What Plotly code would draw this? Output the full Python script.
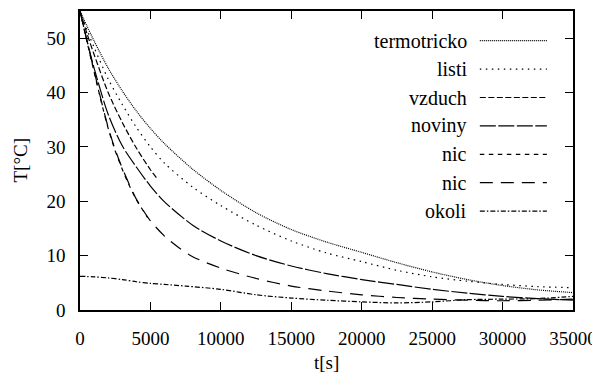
import plotly.graph_objects as go

# ---------------- data ----------------
t_termotricko = [0, 500, 1000, 2000, 3000, 4000, 5000, 6000, 8000, 10000, 12500, 15000,
                 17500, 20000, 22500, 25000, 27500, 30000, 32500, 35000]
T_termotricko = [55, 52.2, 49.5, 44.5, 40.3, 36.6, 33.4, 30.6, 25.9, 22.0, 17.9, 14.8,
                 12.5, 10.6, 8.7, 7.0, 5.6, 4.5, 3.7, 3.2]

t_listi = [0, 500, 1000, 2000, 3000, 4000, 5000, 6000, 8000, 10000, 12500, 15000,
           17500, 20000, 22500, 25000, 27500, 30000, 32500, 35000]
T_listi = [55, 51.5, 48.3, 42.5, 37.8, 33.6, 30.0, 27.0, 22.6, 19.2, 15.6, 12.7,
           10.5, 8.9, 7.3, 6.1, 5.3, 4.7, 4.3, 4.1]

t_vzduch = [0, 500, 1000, 2000, 3000, 4000, 5000, 5500]
T_vzduch = [55, 50.8, 47.0, 40.0, 34.5, 29.8, 25.8, 24.1]

t_noviny = [0, 500, 1000, 2000, 3000, 4000, 5000, 6000, 8000, 10000, 12500, 15000,
            17500, 20000, 22500, 25000, 27500, 30000, 32500, 35000]
T_noviny = [55, 49.5, 44.5, 36.0, 30.2, 26.3, 22.8, 19.9, 15.6, 12.7, 10.0, 8.1,
            6.7, 5.6, 4.7, 3.8, 3.1, 2.5, 2.1, 1.8]

t_nic1 = [0, 500, 1000, 1500, 2000, 2500, 3000, 3500, 4000, 4800]
T_nic1 = [55, 49.3, 43.8, 38.4, 33.4, 29.3, 25.9, 22.9, 20.3, 17.0]

t_nic2 = [0, 500, 1000, 1500, 2000, 2500, 3000, 3500, 4000, 5000, 6000, 7000, 8000,
          10000, 12500, 15000, 17500, 20000, 22500, 25000, 27500, 30000, 32500, 35000]
T_nic2 = [55, 49.5, 44.0, 38.6, 33.6, 29.5, 26.1, 23.1, 20.4, 16.4, 13.6, 11.5, 9.8,
          7.7, 5.8, 4.4, 3.5, 2.8, 2.3, 2.0, 1.8, 1.7, 1.8, 2.0]

t_okoli = [0, 1000, 2000, 3000, 4000, 5000, 6000, 7500, 10000, 12500, 15000, 17500,
           20000, 22500, 25000, 27500, 30000, 32500, 35000]
T_okoli = [6.2, 6.1, 5.9, 5.6, 5.2, 4.9, 4.7, 4.4, 3.8, 2.8, 2.2, 1.8,
           1.5, 1.3, 1.5, 1.9, 2.0, 2.1, 2.5]

series_names = ["termotricko", "listi", "vzduch", "noviny", "nic", "nic", "okoli"]
x_ticks = [0, 5000, 10000, 15000, 20000, 25000, 30000, 35000]
y_ticks = [0, 10, 20, 30, 40, 50]

# ---------------- styles ----------------
dashes = ["1px,1px", "1.5px,4.5px", "6px,2.5px", "16px,2.5px", "4.5px,4.5px",
          "13px,8px", "5px,2px,1.5px,2px"]
FONT = "Liberation Serif, DejaVu Serif, serif"
FS = 19
FS_KEY = 20

series = [(t_termotricko, T_termotricko), (t_listi, T_listi), (t_vzduch, T_vzduch),
          (t_noviny, T_noviny), (t_nic1, T_nic1), (t_nic2, T_nic2), (t_okoli, T_okoli)]

fig = go.Figure()
for (tx, ty), name, dsh in zip(series, series_names, dashes):
    fig.add_trace(go.Scatter(x=tx, y=ty, mode="lines", name=name,
                             line=dict(color="black", width=1.2, dash=dsh, shape="spline",
                                       smoothing=0.8),
                             showlegend=False))

# key: right-aligned text with line sample to its right
key_top = 0.9007
key_step = 0.0950
for i, (name, dsh) in enumerate(zip(series_names, dashes)):
    yy = key_top - i * key_step
    fig.add_annotation(xref="paper", yref="paper", x=0.79, y=yy, text=name,
                       showarrow=False, xanchor="right", yanchor="middle",
                       font=dict(family=FONT, size=FS_KEY, color="black"))
    fig.add_shape(type="line", xref="paper", yref="paper", x0=0.811, x1=0.947,
                  y0=yy, y1=yy, line=dict(color="black", width=1.2, dash=dsh))

fig.add_annotation(xref="paper", yref="paper", x=0.5, y=-0.175, text="t[s]",
                   showarrow=False, xanchor="center", yanchor="middle",
                   font=dict(family=FONT, size=FS, color="black"))
fig.add_annotation(xref="paper", yref="paper", x=-0.1217, y=0.5, text="T[°C]",
                   showarrow=False, xanchor="center", yanchor="middle", textangle=-90,
                   font=dict(family=FONT, size=FS, color="black"))

axis_common = dict(showgrid=False, zeroline=False, showline=True, linecolor="black",
                   linewidth=1.6, mirror="ticks", ticks="inside", ticklen=8,
                   tickwidth=1.2, tickcolor="black", automargin=False,
                   tickfont=dict(family=FONT, size=FS, color="black"))
fig.update_xaxes(range=[0, 35000], tickvals=x_ticks, ticktext=[str(v) for v in x_ticks],
                 ticklabelstandoff=10, **axis_common)
fig.update_yaxes(range=[0, 55], tickvals=y_ticks, ticktext=[str(v) for v in y_ticks],
                 ticklabelstandoff=9, **axis_common)

# the page adds an 8px body margin, so the figure is 8px smaller and margins compensate
fig.update_layout(width=592, height=373,
                  margin=dict(l=72, r=27, t=3, b=71, autoexpand=False),
                  paper_bgcolor="white", plot_bgcolor="white",
                  font=dict(family=FONT, size=FS, color="black"))
fig.write_html("out.html")
